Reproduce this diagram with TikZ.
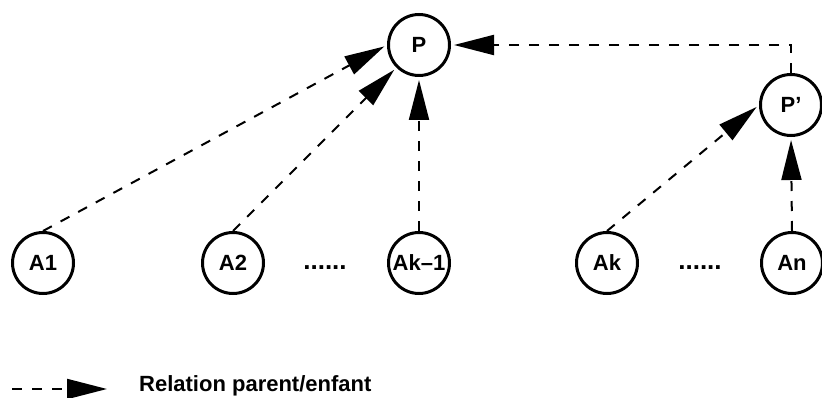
\documentclass[tikz,border=0pt]{standalone}
\usepackage{fontspec}
\setmainfont{Liberation Sans}
\usetikzlibrary{arrows.meta}

\tikzset{
    % nodes
    member/.style={
        circle,
        draw=black,
        line width=3pt,
        inner sep=0pt,
        minimum size=61pt,
        font=\fontsize{22}{24}\selectfont\bfseries
    },
    member-missing/.style={
        draw=none,
        inner sep=0pt,
        font=\fontsize{26}{28}\selectfont\bfseries
    },
    legend-text/.style={
        anchor=west,
        inner sep=0pt,
        font=\fontsize{22}{24}\selectfont\bfseries
    },
    % arrows
    link/.style={
        line width=2pt,
        dash pattern=on 10pt off 10pt,
        shorten >=3pt,
        -{Triangle[length=40pt,width=20pt]}
    }
}

\begin{document}
\begin{tikzpicture}[x=1pt, y=-1pt]

        \useasboundingbox (0, 0) rectangle (822, 398);

        % draw nodes
        \node [member] (parent-1) at (419, 45) {P};
        \node [member] (parent-2) at (791, 105) {P’};

        \foreach \l/\x [count=\i] in {A1/43, A2/233, Ak–1/419, Ak/607, An/792}
            \node [member] (child-\i) at (\x, 263) {\l};

        \node [member-missing] (missing-1) at (325, 268) {......};
        \node [member-missing] (missing-2) at (700, 268) {......};

        % draw edges
        \foreach \i/\a in {1/west, 2/south west, 3/south}
            \draw [link] (child-\i.north) -- (parent-1.\a);
        \foreach \i/\a in {4/west, 5/south}
            \draw [link] (child-\i.north) -- (parent-2.\a);
        \draw [link] (parent-2.north) |- (parent-1.east);

        % legend
        \coordinate (legend-start) at (12, 389);
        \coordinate (legend-end) at (107, 389);
        \draw [link, shorten >=0pt] (legend-start) -- (legend-end);
        \node [legend-text] (legend) at (139, 386) {Relation parent/enfant};

\end{tikzpicture}
\end{document}
